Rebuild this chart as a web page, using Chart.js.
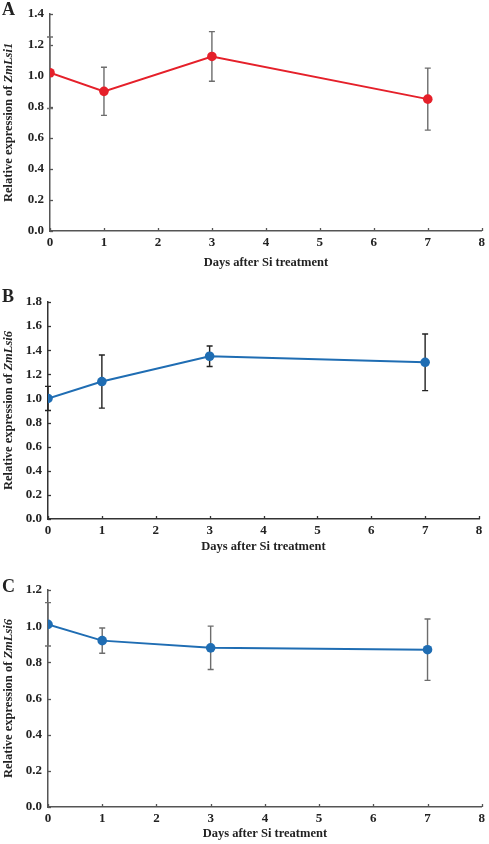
<!DOCTYPE html>
<html>
<head>
<meta charset="utf-8">
<script src="https://cdn.jsdelivr.net/npm/chart.js@4.4.1/dist/chart.umd.min.js"></script>
<style>
html,body{margin:0;padding:0;background:#fff;}
body{width:489px;height:844px;position:relative;overflow:hidden;}
.panel{position:absolute;left:0;width:489px;}
.letter{position:absolute;left:2px;font:bold 18px "Liberation Serif",serif;color:#222;}
</style>
</head>
<body>
<div class="panel" style="top:0;height:280px"><canvas id="chartA"></canvas></div>
<div class="panel" style="top:280px;height:285px"><canvas id="chartB"></canvas></div>
<div class="panel" style="top:565px;height:279px"><canvas id="chartC"></canvas></div>
<div class="letter" style="top:-1px">A</div>
<div class="letter" style="top:286px">B</div>
<div class="letter" style="top:576px">C</div>
<script>
const days = [0, 1, 3, 7];

const lsi1Mean = [1.02, 0.90, 1.125, 0.85];
const lsi1Err = [0.23, 0.155, 0.16, 0.20];

const lsi6Mean = [1.00, 1.14, 1.35, 1.30];
const lsi6Err = [0.10, 0.22, 0.085, 0.235];

const lsi6bMean = [1.01, 0.92, 0.88, 0.87];
const lsi6bErr = [0.12, 0.07, 0.12, 0.17];

const xTicks = [0, 1, 2, 3, 4, 5, 6, 7, 8];

const serif = "'Liberation Serif', 'Times New Roman', serif";

// error bars, inward ticks and the mixed-style y title
const extras = {
  id: "extras",
  beforeDatasetsDraw(chart, args, opts) {
    const ctx = chart.ctx;
    const xs = chart.scales.x, ys = chart.scales.y;
    ctx.save();
    ctx.strokeStyle = opts.axisColor;
    ctx.lineWidth = 1.3;
    // ticks pointing into the plot
    xs.ticks.forEach(t => {
      const px = Math.round(xs.getPixelForValue(t.value)) + 0.5;
      ctx.beginPath();
      ctx.moveTo(px, xs.top);
      ctx.lineTo(px, xs.top - 3);
      ctx.stroke();
    });
    ys.ticks.forEach(t => {
      const py = Math.round(ys.getPixelForValue(t.value)) + 0.5;
      ctx.beginPath();
      ctx.moveTo(ys.right, py);
      ctx.lineTo(ys.right + 3, py);
      ctx.stroke();
    });
    // error bars
    ctx.strokeStyle = opts.errColor;
    ctx.lineWidth = 1.4;
    opts.means.forEach((m, i) => {
      const px = xs.getPixelForValue(days[i]);
      const top = ys.getPixelForValue(m + opts.errs[i]);
      const bot = ys.getPixelForValue(m - opts.errs[i]);
      ctx.beginPath();
      ctx.moveTo(px, top); ctx.lineTo(px, bot);
      ctx.moveTo(px - 3, top); ctx.lineTo(px + 3, top);
      ctx.moveTo(px - 3, bot); ctx.lineTo(px + 3, bot);
      ctx.stroke();
    });
    ctx.restore();
  },
  afterDraw(chart, args, opts) {
    const ctx = chart.ctx;
    const area = chart.chartArea;
    const plain = "Relative expression of ";
    const ital = opts.gene;
    ctx.save();
    ctx.fillStyle = "#222";
    ctx.textBaseline = "middle";
    ctx.font = "bold 12.5px " + serif;
    const w1 = ctx.measureText(plain).width;
    ctx.font = "italic bold 12.5px " + serif;
    const w2 = ctx.measureText(ital).width;
    ctx.translate(9, (area.top + area.bottom) / 2);
    ctx.rotate(-Math.PI / 2);
    const start = -(w1 + w2) / 2;
    ctx.textAlign = "left";
    ctx.font = "bold 12.5px " + serif;
    ctx.fillText(plain, start, 0);
    ctx.font = "italic bold 12.5px " + serif;
    ctx.fillText(ital, start + w1, 0);
    ctx.restore();
  }
};

function makeChart(id, means, errs, cfg) {
  return new Chart(document.getElementById(id), {
    type: "line",
    data: {
      datasets: [{
        data: days.map((d, i) => ({x: d, y: means[i]})),
        borderColor: cfg.color,
        backgroundColor: cfg.color,
        borderWidth: 2,
        pointRadius: 4.8,
        pointBorderWidth: 0,
        tension: 0
      }]
    },
    options: {
      responsive: true,
      maintainAspectRatio: false,
      animation: false,
      layout: {padding: {top: cfg.top, right: cfg.right, bottom: cfg.bottom, left: 0}},
      plugins: {
        legend: {display: false},
        tooltip: {enabled: false},
        extras: {means, errs, gene: cfg.gene, errColor: cfg.errColor, axisColor: cfg.axisColor}
      },
      scales: {
        x: {
          type: "linear",
          min: 0, max: 8,
          afterBuildTicks: s => { s.ticks = xTicks.map(v => ({value: v})); },
          afterFit: s => { s.height = cfg.xHeight; },
          grid: {drawOnChartArea: false, drawTicks: false},
          border: {color: cfg.axisColor, width: 1.5},
          ticks: {color: "#222", padding: 4, font: {family: serif, size: 13, weight: "bold"}},
          title: {
            display: true,
            text: "Days after Si treatment",
            color: "#222",
            padding: {top: 0, bottom: 0},
            font: {family: serif, size: 12.5, weight: "bold"}
          }
        },
        y: {
          min: 0, max: cfg.yMax,
          afterBuildTicks: s => { s.ticks = cfg.yTicks.map(v => ({value: v})); },
          afterFit: s => { s.width = cfg.yWidth; },
          grid: {drawOnChartArea: false, drawTicks: false},
          border: {color: cfg.axisColor, width: 1.5},
          ticks: {
            color: "#222", padding: 6,
            font: {family: serif, size: 13, weight: "bold"},
            callback: v => v.toFixed(1)
          }
        }
      }
    },
    plugins: [extras]
  });
}

makeChart("chartA", lsi1Mean, lsi1Err, {
  color: "#e5202a", errColor: "#6d6d6d", axisColor: "#555",
  gene: "ZmLsi1", yMax: 1.4, yTicks: [0, 0.2, 0.4, 0.6, 0.8, 1.0, 1.2, 1.4],
  top: 10, right: 4, bottom: 10, xHeight: 39, yWidth: 50
});

makeChart("chartB", lsi6Mean, lsi6Err, {
  color: "#1f6db3", errColor: "#222", axisColor: "#333",
  gene: "ZmLsi6", yMax: 1.8, yTicks: [0, 0.2, 0.4, 0.6, 0.8, 1.0, 1.2, 1.4, 1.6, 1.8],
  top: 22, right: 10, bottom: 11, xHeight: 35, yWidth: 48
});

makeChart("chartC", lsi6bMean, lsi6bErr, {
  color: "#1f6db3", errColor: "#6d6d6d", axisColor: "#555",
  gene: "ZmLsi6", yMax: 1.2, yTicks: [0, 0.2, 0.4, 0.6, 0.8, 1.0, 1.2],
  top: 25, right: 5, bottom: 3, xHeight: 34, yWidth: 48
});
</script>
</body>
</html>
